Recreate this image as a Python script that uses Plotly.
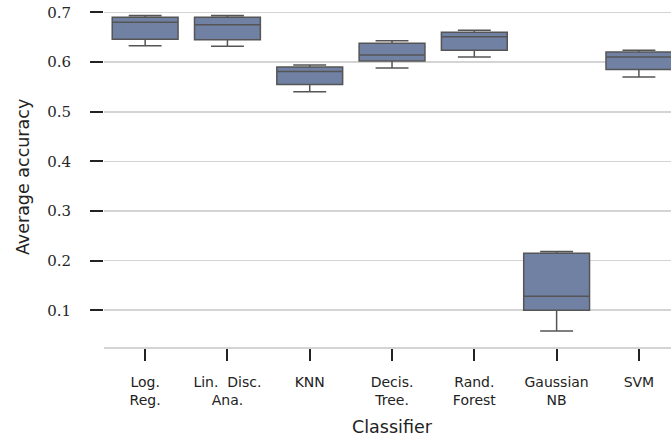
import plotly.graph_objects as go

categories = ["Log.<br>Reg.", "Lin. \u00a0Disc.<br>Ana.", "KNN", "Decis.<br>Tree.",
              "Rand.<br>Forest", "Gaussian<br>NB", "SVM"]
upper_whisker = [0.694, 0.694, 0.594, 0.643, 0.664, 0.2185, 0.624]
q3_values = [0.690, 0.690, 0.590, 0.638, 0.660, 0.215, 0.620]
median_values = [0.680, 0.675, 0.581, 0.614, 0.651, 0.128, 0.610]
q1_values = [0.646, 0.645, 0.555, 0.602, 0.624, 0.100, 0.585]
lower_whisker = [0.633, 0.632, 0.540, 0.588, 0.610, 0.058, 0.570]
y_ticks = [0.1, 0.2, 0.3, 0.4, 0.5, 0.6, 0.7]

fig = go.Figure()
fig.add_trace(go.Box(
    x=categories,
    q1=q1_values, median=median_values, q3=q3_values,
    lowerfence=lower_whisker, upperfence=upper_whisker,
    fillcolor="rgb(112,129,164)",
    line=dict(color="#555555", width=1.5),
    width=0.8, whiskerwidth=0.5,
    boxpoints=False, showlegend=False, hoverinfo="skip",
))

fig.update_layout(
    width=671, height=438,
    margin=dict(l=104, r=0, t=0, b=91, autoexpand=False),
    plot_bgcolor="white", paper_bgcolor="white",
    xaxis=dict(
        type="category", range=[-0.5, 6.39], automargin=False,
        showgrid=False, zeroline=False,
        showline=True, linecolor="#d4d4d4", linewidth=2,
        ticks="outside", ticklen=12, tickwidth=2, tickcolor="#222222",
        ticklabelstandoff=9,
        tickfont=dict(family="DejaVu Sans", size=14, color="#222222"),
    ),
    yaxis=dict(
        range=[0.026, 0.725], tickvals=y_ticks, automargin=False,
        ticktext=[f"{v:.1f}" for v in y_ticks],
        showgrid=True, gridcolor="#d4d4d4", gridwidth=1.6,
        zeroline=False, showline=False,
        ticks="outside", ticklen=13, tickwidth=2, tickcolor="#222222",
        ticklabelstandoff=16,
        tickfont=dict(family="DejaVu Serif", size=15, color="#262626"),
    ),
    annotations=[
        dict(text="Classifier", xref="paper", yref="paper", x=0.508, y=-0.2316,
             xanchor="center", yanchor="middle", showarrow=False,
             font=dict(family="DejaVu Sans", size=17.5, color="#222222")),
        dict(text="Average accuracy", xref="paper", yref="paper", x=-0.1429, y=0.4895,
             xanchor="center", yanchor="middle", showarrow=False, textangle=-90,
             font=dict(family="DejaVu Sans", size=17.5, color="#222222")),
    ],
)

fig.write_html("out.html",
               config={"displayModeBar": False, "staticPlot": True},
               post_script="document.body.style.margin='0';document.body.style.overflow='hidden';")
